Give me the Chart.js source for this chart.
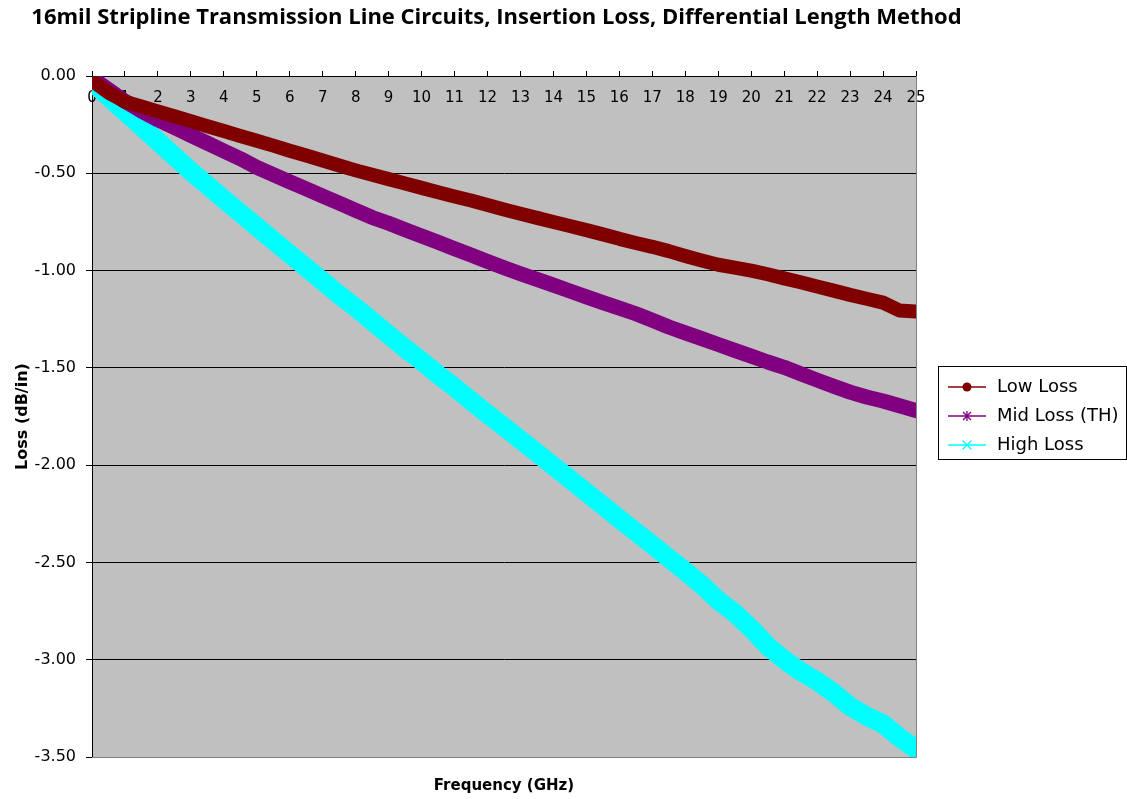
<!DOCTYPE html>
<html>
<head>
<meta charset="utf-8">
<script src="https://cdn.jsdelivr.net/npm/chart.js@4.4.1/dist/chart.umd.min.js"></script>
<style>html,body{margin:0;padding:0;background:#fff}canvas{display:block}</style>
</head>
<body>
<canvas id="c" width="1127" height="799"></canvas>
<script>
const TITLE = "16mil Stripline Transmission Line Circuits, Insertion Loss, Differential Length Method";
const X_TITLE = "Frequency (GHz)";
const Y_TITLE = "Loss (dB/in)";
const seriesNames = ["Low Loss", "Mid Loss (TH)", "High Loss"];

const freq = [0,0.5,1,1.5,2,2.5,3,3.5,4,4.5,5,5.5,6,6.5,7,7.5,8,8.5,9,9.5,10,10.5,11,11.5,12,12.5,13,13.5,14,14.5,15,15.5,16,16.5,17,17.5,18,18.5,19,19.5,20,20.5,21,21.5,22,22.5,23,23.5,24,24.5,25];

const lowLoss = [-0.024,-0.085,-0.132,-0.157,-0.182,-0.207,-0.232,-0.258,-0.283,-0.308,-0.333,-0.358,-0.384,-0.409,-0.434,-0.46,-0.485,-0.508,-0.53,-0.552,-0.575,-0.597,-0.619,-0.64,-0.663,-0.686,-0.708,-0.729,-0.75,-0.771,-0.792,-0.814,-0.837,-0.858,-0.878,-0.9,-0.925,-0.948,-0.97,-0.985,-1.0,-1.019,-1.04,-1.06,-1.082,-1.103,-1.125,-1.145,-1.165,-1.205,-1.21];

const midLoss = [-0.01,-0.07,-0.13,-0.18,-0.225,-0.265,-0.305,-0.345,-0.385,-0.425,-0.47,-0.507,-0.544,-0.58,-0.617,-0.653,-0.69,-0.727,-0.757,-0.79,-0.822,-0.855,-0.888,-0.92,-0.953,-0.985,-1.016,-1.045,-1.075,-1.105,-1.135,-1.165,-1.193,-1.222,-1.255,-1.29,-1.32,-1.35,-1.38,-1.41,-1.44,-1.47,-1.497,-1.53,-1.563,-1.595,-1.625,-1.65,-1.67,-1.695,-1.72];

const highLoss = [-0.03,-0.107,-0.183,-0.26,-0.336,-0.413,-0.49,-0.562,-0.633,-0.704,-0.774,-0.845,-0.915,-0.985,-1.055,-1.125,-1.19,-1.26,-1.33,-1.4,-1.465,-1.535,-1.6,-1.67,-1.737,-1.803,-1.87,-1.937,-2.005,-2.072,-2.14,-2.208,-2.276,-2.343,-2.41,-2.478,-2.545,-2.615,-2.695,-2.76,-2.84,-2.93,-3.0,-3.06,-3.11,-3.17,-3.24,-3.29,-3.33,-3.4,-3.46];

const xTickValues = [0,1,2,3,4,5,6,7,8,9,10,11,12,13,14,15,16,17,18,19,20,21,22,23,24,25];
const xTickLabels = ["0","1","2","3","4","5","6","7","8","9","10","11","12","13","14","15","16","17","18","19","20","21","22","23","24","25"];
const yTickValues = [-3.5,-3,-2.5,-2,-1.5,-1,-0.5,0];
const yTickLabels = ["-3.50","-3.00","-2.50","-2.00","-1.50","-1.00","-0.50","0.00"];

const COLORS = ["#800000", "#800080", "#00FFFF"];

function legendIcon(color, kind) {
  const c = document.createElement('canvas');
  c.width = 61; c.height = 18;
  const g = c.getContext('2d');
  g.strokeStyle = color; g.fillStyle = color; g.lineWidth = 1.5;
  g.beginPath(); g.moveTo(21, 9); g.lineTo(59, 9); g.stroke();
  const cx = 40, cy = 9;
  g.lineWidth = 1.3;
  if (kind === 'circle') {
    g.beginPath(); g.arc(cx, cy, 4.5, 0, Math.PI * 2); g.fill();
  } else if (kind === 'star') {
    g.beginPath();
    g.moveTo(cx - 4, cy - 4); g.lineTo(cx + 4, cy + 4);
    g.moveTo(cx + 4, cy - 4); g.lineTo(cx - 4, cy + 4);
    g.moveTo(cx, cy - 5); g.lineTo(cx, cy + 5);
    g.stroke();
  } else {
    g.beginPath();
    g.moveTo(cx - 4.5, cy - 4.5); g.lineTo(cx + 4.5, cy + 4.5);
    g.moveTo(cx + 4.5, cy - 4.5); g.lineTo(cx - 4.5, cy + 4.5);
    g.stroke();
  }
  return c;
}
const icons = [legendIcon(COLORS[0], 'circle'), legendIcon(COLORS[1], 'star'), legendIcon(COLORS[2], 'x')];

function toPoints(values) { return freq.map((f, i) => ({x: f, y: values[i]})); }

const LEGEND_W = 211;
const TITLE_CENTER_X = 496.5;

const decor = {
  id: 'decor',
  beforeLayout(chart) {
    const lg = chart.legend;
    if (lg && !lg.__wrapped) {
      const f = lg.fit;
      lg.fit = function () { f.call(this); this.width = LEGEND_W; };
      lg.__wrapped = true;
    }
  },
  afterLayout(chart) {
    const lg = chart.legend;
    if (lg) { lg.top += 33; }
    const t = chart.titleBlock;
    if (t) { t.left = TITLE_CENTER_X - 3000; t.right = TITLE_CENTER_X + 3000; t.width = 6000; }
  },
  beforeDraw(chart) {
    const {ctx, chartArea: a} = chart;
    ctx.save();
    ctx.fillStyle = '#ffffff';
    ctx.fillRect(0, 0, chart.width, chart.height);
    ctx.fillStyle = '#C0C0C0';
    ctx.fillRect(a.left, a.top, a.right - a.left, a.bottom - a.top);
    ctx.restore();
  },
  beforeDatasetsDraw(chart) {
    const {ctx, chartArea: a} = chart;
    ctx.save();
    ctx.strokeStyle = '#808080';
    ctx.lineWidth = 1;
    ctx.beginPath();
    const r = Math.round(a.right) + 0.5, b = Math.round(a.bottom) + 0.5;
    ctx.moveTo(r, Math.round(a.top)); ctx.lineTo(r, b);
    ctx.moveTo(Math.round(a.left), b); ctx.lineTo(r, b);
    ctx.stroke();
    ctx.restore();
  },
  afterDraw(chart) {
    const lg = chart.legend;
    if (!lg || !lg.legendHitBoxes || !lg.legendHitBoxes.length) return;
    const hb = lg.legendHitBoxes;
    const ctx = chart.ctx;
    const x0 = Math.round(lg.left + 22) + 0.5;
    const x1 = chart.width - 0.5;
    const y0 = Math.round(hb[0].top - 12.5) + 0.5;
    const last = hb[hb.length - 1];
    const y1 = Math.round(last.top + last.height + 4.5) + 0.5;
    ctx.save();
    ctx.strokeStyle = '#000';
    ctx.lineWidth = 1;
    ctx.strokeRect(x0, y0, x1 - x0, y1 - y0);
    ctx.restore();
  }
};

const widths = [14, 15, 19];
const datasets = [lowLoss, midLoss, highLoss].map((vals, i) => ({
  label: seriesNames[i],
  data: toPoints(vals),
  showLine: true,
  borderColor: COLORS[i],
  backgroundColor: COLORS[i],
  borderWidth: widths[i],
  borderCapStyle: 'round',
  borderJoinStyle: 'round',
  tension: 0,
  pointRadius: 0,
  pointHoverRadius: 0,
  pointStyle: icons[i]
}));

new Chart(document.getElementById('c').getContext('2d'), {
  type: 'scatter',
  data: { datasets },
  options: {
    responsive: false,
    animation: false,
    devicePixelRatio: 1,
    events: [],
    layout: { padding: 0 },
    plugins: {
      title: {
        display: true, text: TITLE, fullSize: false, color: '#000',
        font: { family: 'Open Sans', size: 22, weight: 'bold' },
        padding: { top: 4.8, bottom: 44.8 }
      },
      subtitle: {
        display: true, text: X_TITLE, position: 'bottom', fullSize: false, color: '#000',
        font: { family: 'DejaVu Sans', size: 15, weight: 'bold' },
        padding: { top: 20, bottom: 4 }
      },
      legend: {
        position: 'right', align: 'center',
        labels: {
          usePointStyle: true, pointStyleWidth: 61, padding: 11, color: '#000',
          font: { family: 'DejaVu Sans', size: 18 }
        }
      },
      tooltip: { enabled: false }
    },
    scales: {
      x: {
        type: 'linear', position: { y: 0 }, min: 0, max: 25,
        afterFit(s) { s.height = 0; },
        afterBuildTicks(s) { s.ticks = xTickValues.map(v => ({ value: v })); },
        ticks: {
          autoSkip: false, maxRotation: 0, minRotation: 0, padding: 19, color: '#000',
          font: { family: 'DejaVu Sans', size: 15 },
          callback: (v, i) => xTickLabels[i]
        },
        grid: { drawOnChartArea: false, drawTicks: true, tickLength: -6, color: '#000', tickColor: '#000' },
        border: { display: true, color: '#000', width: 1 }
      },
      y: {
        type: 'linear', position: 'left', min: -3.5, max: 0,
        afterFit(s) { s.width = 92; },
        afterBuildTicks(s) { s.ticks = yTickValues.map(v => ({ value: v })); },
        ticks: {
          padding: 10, color: '#000',
          font: { family: 'DejaVu Sans', size: 16 },
          callback: (v, i) => yTickLabels[i]
        },
        grid: {
          color: (c) => (c.tick && c.tick.value === -3.5) ? '#808080' : '#000',
          tickColor: '#000', tickLength: 6, lineWidth: 1
        },
        border: { display: true, color: '#000', width: 1 },
        title: {
          display: true, text: Y_TITLE, color: '#000',
          font: { family: 'DejaVu Sans', size: 16, weight: 'bold' },
          padding: { top: 13, bottom: 0 }
        }
      }
    }
  },
  plugins: [decor]
});
</script>
</body>
</html>
